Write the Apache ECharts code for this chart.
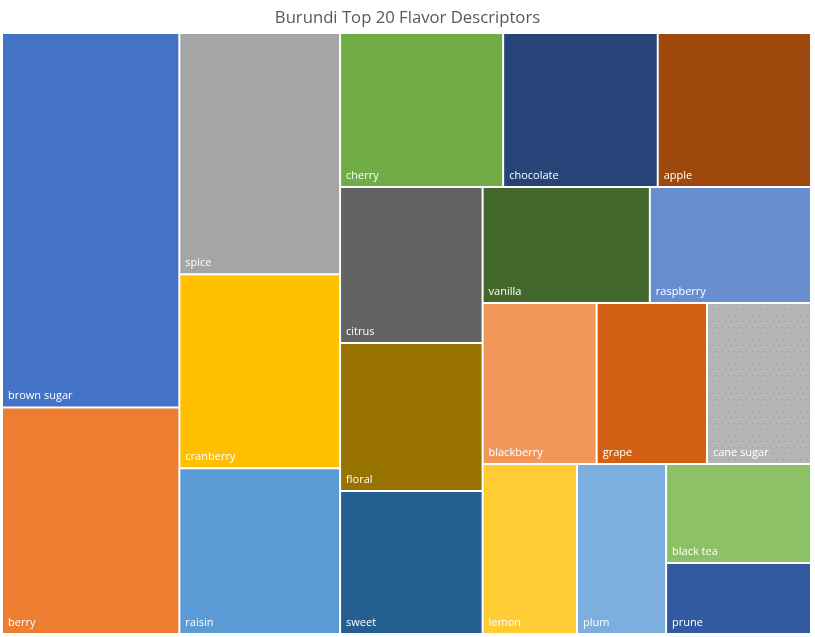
<!DOCTYPE html>
<html>
<head>
<meta charset="utf-8">
<title>Burundi Top 20 Flavor Descriptors</title>
<script src="https://cdn.jsdelivr.net/npm/echarts@6/dist/echarts.min.js"></script>
<style>
  body { margin: 0; padding: 0; background: #fff; }
  #main { width: 815px; height: 637px; }
</style>
</head>
<body>
<div id="main"></div>
<script>
// flavor descriptors, biggest first, values
const descriptors = [
  "brown sugar", "berry", "spice", "cranberry", "raisin",
  "cherry", "chocolate", "apple", "citrus", "floral",
  "sweet", "vanilla", "raspberry", "blackberry", "grape",
  "cane sugar", "lemon", "plum", "black tea", "prune"
];
const counts = [
  658, 398, 384, 309, 264,
  249, 236, 234, 220, 209,
  202, 192, 185, 182, 176,
  166, 159, 150, 142, 102
];
const tileColors = [
  "#4472C4", "#ED7D31", "#A5A5A5", "#FFC000", "#5B9BD5",
  "#70AD47", "#264478", "#9E480E", "#636363", "#997300",
  "#255E91", "#43682B", "#698ED0", "#F1975A", "#D26012",
  "#B5B5B5", "#FFCD33", "#7CAFDD", "#8CC168", "#335AA1"
];
// Excel packs these runs of tiles into one strip each
const stripGroups = [
  ["brown sugar", "berry"],
  ["blackberry", "grape", "cane sugar"]
];

const groupStyle = { borderWidth: 0, gapWidth: 0 };

function leaf(i) {
  const style = { color: tileColors[i], borderColor: "#fff", borderWidth: 1 };
  if (descriptors[i] === "cane sugar") {
    // the speckled texture
    style.decal = {
      symbol: "rect",
      symbolSize: 1,
      color: "rgba(125,125,125,0.6)",
      dashArrayX: [[1, 5], [0, 3, 1, 2]],
      dashArrayY: [1, 5],
      rotation: 0
    };
  }
  return { name: descriptors[i], value: counts[i], itemStyle: style };
}

// build the tree: first strip on its own, the rest laid out after it
const restNodes = [];
let firstStrip = null;
let i = 0;
while (i < descriptors.length) {
  const g = stripGroups.find(s => s[0] === descriptors[i]);
  if (g) {
    const kids = g.map((_, k) => leaf(i + k));
    const node = { name: g.join(" / "), children: kids, itemStyle: groupStyle };
    if (!firstStrip) firstStrip = node; else restNodes.push(node);
    i += g.length;
  } else {
    restNodes.push(leaf(i));
    i++;
  }
}
const treeData = [
  firstStrip,
  { name: "rest", children: restNodes, itemStyle: groupStyle }
];

const chart = echarts.init(document.getElementById("main"));
chart.setOption({
  animation: false,
  title: {
    text: "Burundi Top 20 Flavor Descriptors",
    left: "center",
    top: 5,
    textStyle: {
      fontFamily: "Open Sans",
      fontSize: 16.7,
      fontWeight: "normal",
      color: "#595959"
    }
  },
  series: [
    {
      type: "treemap",
      left: 2,
      top: 33,
      right: 4,
      bottom: 3,
      roam: false,
      nodeClick: false,
      sort: null,
      breadcrumb: { show: false },
      squareRatio: 1,
      itemStyle: { borderWidth: 0, gapWidth: 0 },
      label: {
        show: true,
        position: "insideBottomLeft",
        distance: 5,
        padding: 0,
        color: "#fff",
        fontFamily: "Open Sans",
        fontSize: 11
      },
      upperLabel: { show: false },
      data: treeData
    }
  ]
});
</script>
</body>
</html>
